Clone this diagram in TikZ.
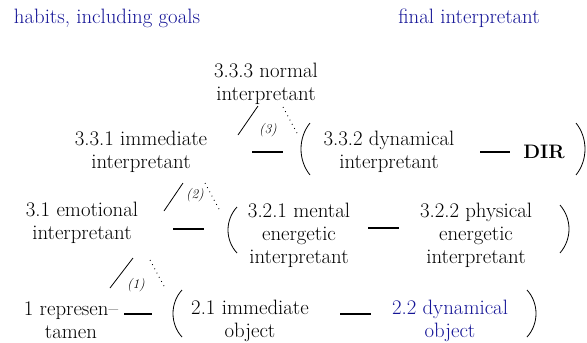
\documentclass[tikz,border=0pt]{standalone}
\definecolor{goalblue}{RGB}{20,20,150}

\begin{document}
\begin{tikzpicture}[x=1pt,y=-1pt,
  term/.style={align=center,inner sep=0pt,font=\fontsize{20.8}{23}\selectfont},
  note/.style={inner sep=0pt,font=\fontsize{13.5}{15}\selectfont\itshape},
  bar/.style={line width=2pt},
  branch/.style={line width=0.8pt},
  trace/.style={line width=0.9pt,dash pattern=on 0.8pt off 4pt},
  paren/.style={line width=0.8pt}]
  \useasboundingbox (0,0) rectangle (587,343);

  % Headings
  \node[term,goalblue] (habits) at (107,18) {habits, including goals};
  \node[term,goalblue] (final) at (469,18) {final interpretant};

  % Interpretants
  \node[term] (normal) at (266,84) {3.3.3 normal\\interpretant};
  \node[term] (immint) at (141,152) {3.3.1 immediate\\interpretant};
  \node[term] (dynint) at (389,152) {3.3.2 dynamical\\interpretant};
  \node[term,font=\fontsize{19.5}{23}\selectfont\bfseries] (dir) at (544,152) {DIR};
  \node[term] (emot) at (82,223) {3.1 emotional\\interpretant};
  \node[term] (mental) at (299,235) {3.2.1 mental\\energetic\\interpretant};
  \node[term] (phys) at (476,235) {3.2.2 physical\\energetic\\interpretant};

  % Representamen and objects
  \node[term] (repr) at (71,320) {1 represen--\\tamen};
  \node[term] (immobj) at (250,321) {2.1 immediate\\object};
  \node[term,goalblue] (dynobj) at (450,321) {2.2 dynamical\\object};

  % Branch labels
  \node[note] (n3) at (268,130) {(3)};
  \node[note] (n2) at (195,195) {(2)};
  \node[note] (n1) at (136,285) {(1)};

  % Branch ends
  \coordinate (s3a) at (238,135); \coordinate (s3b) at (258,106);
  \coordinate (t3a) at (283,107); \coordinate (t3b) at (298,135);
  \coordinate (s2a) at (164,211); \coordinate (s2b) at (183,183);
  \coordinate (t2a) at (205,183); \coordinate (t2b) at (220,211);
  \coordinate (s1a) at (110,288); \coordinate (s1b) at (133,258);
  \coordinate (t1a) at (150,260); \coordinate (t1b) at (165,288);

  \draw[branch] (s3a) -- (s3b);
  \draw[trace] (t3a) -- (t3b);
  \draw[branch] (s2a) -- (s2b);
  \draw[trace] (t2a) -- (t2b);
  \draw[branch] (s1a) -- (s1b);
  \draw[trace] (t1a) -- (t1b);

  % Bars
  \coordinate (b3a) at (252,152); \coordinate (b3b) at (283,152);
  \coordinate (bda) at (480,152); \coordinate (bdb) at (510,152);
  \coordinate (b2a) at (173,229); \coordinate (b2b) at (204,229);
  \coordinate (bea) at (368,228); \coordinate (beb) at (399,228);
  \coordinate (b1a) at (124,314); \coordinate (b1b) at (152,314);
  \coordinate (boa) at (340,314); \coordinate (bob) at (371,314);

  \draw[bar] (b3a) -- (b3b);
  \draw[bar] (bda) -- (bdb);
  \draw[bar] (b2a) -- (b2b);
  \draw[bar] (bea) -- (beb);
  \draw[bar] (b1a) -- (b1b);
  \draw[bar] (boa) -- (bob);

  % Parentheses
  \draw[paren] (310,123) .. controls (298,138) and (298,160) .. (310,175);
  \draw[paren] (576,123) .. controls (588,138) and (588,160) .. (576,175);
  \draw[paren] (237,207) .. controls (225,220) and (225,240) .. (237,253);
  \draw[paren] (560,205) .. controls (572,219) and (572,239) .. (560,253);
  \draw[paren] (182,290) .. controls (170,303) and (170,324) .. (182,337);
  \draw[paren] (527,290) .. controls (539,303) and (539,324) .. (527,337);
\end{tikzpicture}
\end{document}
